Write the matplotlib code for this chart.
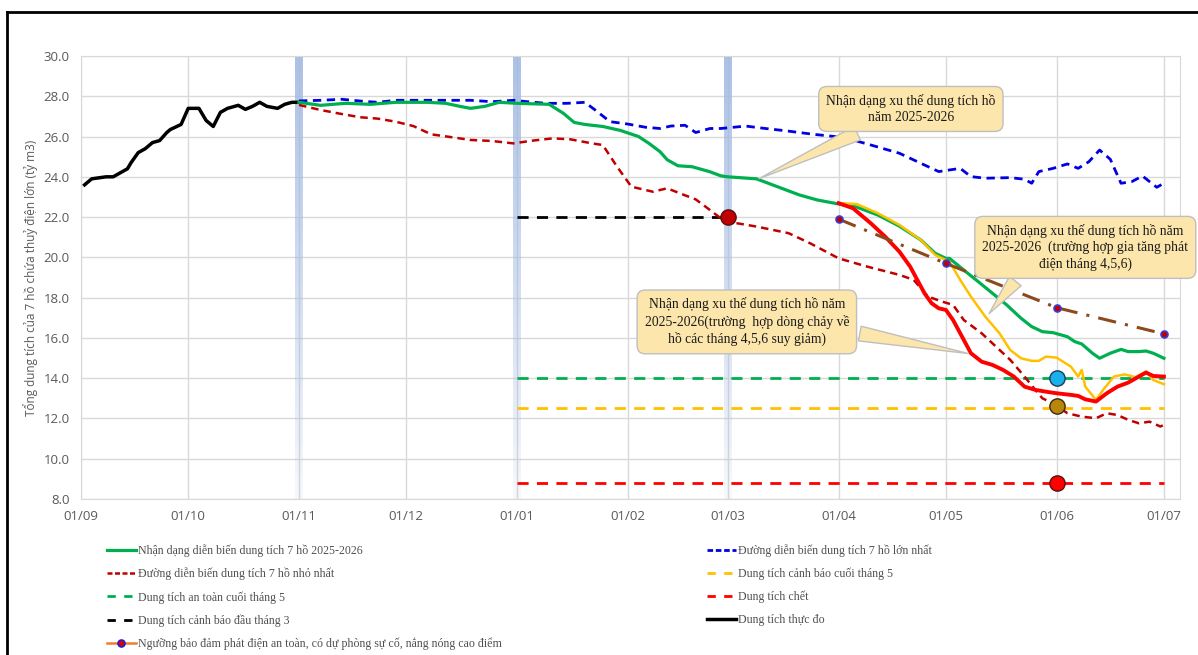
import matplotlib.pyplot as plt
from matplotlib.lines import Line2D
import numpy as np

# x = days since 01/09
month_days = [0, 30, 61, 91, 122, 153, 181, 212, 242, 273, 303]
month_labels = ["01/09", "01/10", "01/11", "01/12", "01/01", "01/02",
                "01/03", "01/04", "01/05", "01/06", "01/07"]

actual_days = [1, 3, 5, 7, 9, 11, 13, 14, 16, 18, 20, 22, 24, 25, 28, 30, 33,
               35, 37, 39, 41, 44, 46, 48, 50, 52, 55, 57, 59, 61]
actual_vals = [23.6, 23.9, 23.95, 24.0, 24.0, 24.2, 24.4, 24.7, 25.2, 25.4, 25.7,
               25.8, 26.2, 26.35, 26.6, 27.4, 27.4, 26.8, 26.5, 27.2, 27.4, 27.55,
               27.35, 27.5, 27.7, 27.5, 27.4, 27.6, 27.7, 27.7]

trend_days = [61, 67, 74, 81, 88, 97, 102, 106, 109, 113, 117, 122, 131, 135, 138,
              141, 146, 151, 156, 159, 162, 164, 167, 171, 176, 179, 181, 189, 195,
              201, 206, 212, 217, 223, 229, 235, 239, 242, 243, 247, 251, 255, 259,
              263, 266, 269, 272, 276, 278, 280, 283, 285, 288, 291, 293, 296, 298,
              300, 303]
trend_vals = [27.7, 27.55, 27.65, 27.6, 27.7, 27.7, 27.65, 27.5, 27.4, 27.5, 27.7,
              27.65, 27.6, 27.15, 26.7, 26.6, 26.5, 26.3, 26.0, 25.65, 25.25, 24.85,
              24.55, 24.5, 24.25, 24.05, 24.0, 23.9, 23.5, 23.1, 22.85, 22.65, 22.5,
              22.1, 21.55, 20.86, 20.2, 19.95, 19.95, 19.37, 18.8, 18.22, 17.64,
              16.98, 16.56, 16.31, 16.26, 16.06, 15.82, 15.7, 15.24, 14.99, 15.24,
              15.43, 15.32, 15.32, 15.35, 15.24, 14.99]

max_days = [61, 67, 73, 79, 83, 88, 93, 102, 109, 115, 121, 125, 130, 136, 141,
            144, 148, 153, 158, 162, 165, 169, 172, 176, 179, 186, 191, 197, 205,
            211, 216, 221, 229, 235, 240, 246, 249, 253, 260, 264, 266, 268, 272,
            276, 279, 282, 285, 288, 291, 294, 297, 301, 303]
max_vals = [27.77, 27.8, 27.85, 27.75, 27.7, 27.8, 27.8, 27.8, 27.8, 27.73, 27.8,
            27.73, 27.65, 27.65, 27.7, 27.3, 26.74, 26.62, 26.46, 26.4, 26.52,
            26.56, 26.2, 26.4, 26.4, 26.52, 26.41, 26.29, 26.11, 26.0, 25.83, 25.58,
            25.17, 24.67, 24.26, 24.42, 24.01, 23.93, 23.96, 23.88, 23.68, 24.26,
            24.42, 24.64, 24.42, 24.75, 25.33, 24.87, 23.68, 23.76, 24.04, 23.48,
            23.68]

min_days = [61, 67, 72, 78, 83, 88, 93, 98, 104, 109, 115, 121, 126, 132, 137,
            143, 146, 150, 154, 160, 164, 168, 172, 176, 179, 181, 189, 198, 204,
            212, 220, 229, 233, 237, 241, 244, 247, 252, 256, 260, 264, 267, 269,
            272, 276, 280, 284, 287, 290, 293, 296, 299, 302, 303]
min_vals = [27.57, 27.32, 27.15, 26.96, 26.89, 26.74, 26.52, 26.11, 25.96, 25.83,
            25.78, 25.66, 25.79, 25.91, 25.86, 25.66, 25.58, 24.5, 23.51, 23.26,
            23.43, 23.15, 22.88, 22.35, 21.94, 21.77, 21.53, 21.2, 20.7, 19.95,
            19.54, 19.13, 18.88, 18.05, 17.8, 17.64, 16.89, 16.23, 15.57, 14.91,
            14.08, 13.42, 13.0, 12.75, 12.26, 12.09, 12.01, 12.26, 12.17, 11.93,
            11.76, 11.84, 11.6, 11.68]

gen_days = [212, 217, 223, 229, 235, 239, 241, 243, 246, 249, 253, 257, 260, 263,
            266, 268, 270, 273, 277, 279, 280, 281, 284, 286, 289, 292, 295, 298,
            300, 303]
gen_vals = [22.69, 22.65, 22.19, 21.61, 20.86, 20.12, 19.95, 19.79, 18.88, 18.05,
            17.06, 16.23, 15.4, 14.99, 14.86, 14.86, 15.07, 15.02, 14.57, 14.08,
            14.41, 13.58, 12.92, 13.42, 14.08, 14.19, 14.05, 14.33, 13.91, 13.7]

dry_days = [212, 216, 221, 225, 229, 232, 234, 236, 238, 240, 242, 244, 246, 249,
            252, 255, 258, 261, 264, 267, 270, 273, 277, 279, 281, 284, 287, 290,
            293, 296, 298, 300, 303]
dry_vals = [22.69, 22.44, 21.69, 21.03, 20.28, 19.54, 18.88, 18.22, 17.72, 17.47,
            17.39, 16.89, 16.23, 15.24, 14.82, 14.66, 14.41, 14.08, 13.58, 13.42,
            13.33, 13.25, 13.17, 13.12, 12.95, 12.84, 13.25, 13.58, 13.78, 14.08,
            14.28, 14.11, 14.08]

thr_days = [212, 242, 273, 303]
thr_vals = [21.9, 19.7, 17.5, 16.2]

warn_mar = 22.0
safe_may = 14.0
warn_may = 12.5
dead_vol = 8.8
band_days = [61, 122, 181]

fig = plt.figure(figsize=(11.98, 6.55), dpi=100)
ax = fig.add_axes([81 / 1198, 1 - 499 / 655, (1180 - 81) / 1198, (499 - 56) / 655])

# light blue vertical bands, fading downwards
grad = np.ones((100, 1, 4))
grad[:, 0, 0], grad[:, 0, 1], grad[:, 0, 2] = 0.64, 0.73, 0.89
grad[:, 0, 3] = np.linspace(0.9, 0.1, 100)
for b in band_days:
    ax.imshow(grad, extent=(b - 1.1, b + 1.1, 8, 30), aspect='auto', zorder=1)

ax.plot([122, 181], [warn_mar] * 2, color='black', lw=2, dashes=(4, 3), zorder=3)
ax.plot([122, 303], [safe_may] * 2, color='#00b050', lw=2, dashes=(4, 3), zorder=3)
ax.plot([122, 303], [warn_may] * 2, color='#ffc000', lw=2, dashes=(4, 3), zorder=3)
ax.plot([122, 303], [dead_vol] * 2, color='#ff0000', lw=2, dashes=(4, 3), zorder=3)

ax.plot(max_days, max_vals, color='#0000e0', lw=2, dashes=(3, 2), zorder=4)
ax.plot(min_days, min_vals, color='#c00000', lw=1.8, dashes=(3, 2), zorder=4)
ax.plot(actual_days, actual_vals, color='black', lw=2.5, zorder=5)
ax.plot(trend_days, trend_vals, color='#00b050', lw=2.3, zorder=5)
ax.plot(gen_days, gen_vals, color='#ffc000', lw=1.8, zorder=5)
ax.plot(dry_days, dry_vals, color='#ff0000', lw=2.8, zorder=6)
ax.plot(thr_days, thr_vals, color='#8c4a1c', lw=2.2, dashes=(6, 3, 1, 3), zorder=6)
ax.plot(thr_days, thr_vals, ls='none', marker='o', ms=5, mfc='#c00000', mec='#3b3bd6',
        mew=1.2, zorder=7)

ax.plot(181, warn_mar, 'o', ms=11, mfc='#c00000', mec='#5a1010', zorder=8)
ax.plot(273, safe_may, 'o', ms=11, mfc='#1ab0ec', mec='#1f3a5a', zorder=8)
ax.plot(273, 12.6, 'o', ms=11, mfc='#b8860b', mec='#3a2a10', zorder=8)
ax.plot(273, dead_vol, 'o', ms=11, mfc='#ff0000', mec='#5a1010', zorder=8)

ax.set_xlim(0, 307.5)
ax.set_ylim(8, 30)
ax.set_xticks(month_days)
ax.set_xticklabels(month_labels)
ax.set_yticks(np.arange(8, 30.1, 2))
ax.set_yticklabels([f"{v:.1f}" for v in np.arange(8, 30.1, 2)])
ax.tick_params(length=0, labelsize=9.5, labelcolor='#595959', pad=8)
for lab in ax.get_xticklabels() + ax.get_yticklabels():
    lab.set_family('Open Sans')
ax.grid(True, color='#d9d9d9', lw=1)
ax.set_axisbelow(True)
for s in ax.spines.values():
    s.set_color('#d9d9d9')
ax.set_ylabel("Tổng dung tích của 7 hồ chứa thuỷ điện lớn (tỷ m3)", fontsize=8.5,
              color='#595959', family='Open Sans', labelpad=4)

# callouts
box = dict(boxstyle='round,pad=0.55,rounding_size=0.6', fc='#fce6ab', ec='#bfbfbf', lw=1)
wedge = dict(arrowstyle='wedge,tail_width=1.1,shrink_factor=0.5', fc='#fce6ab',
             ec='#bfbfbf', lw=1)
txt = dict(family='Liberation Serif', fontsize=9.8, color='#1a1a1a', ha='center',
           va='center', linespacing=1.3, zorder=10)
ax.annotate("Nhận dạng xu thế dung tích hồ\nnăm 2025-2026", xy=(189, 23.85),
            xytext=(232.2, 27.37), bbox=box,
            arrowprops=dict(wedge, relpos=(0.3, 0.0)), **txt)
ax.annotate("Nhận dạng xu thế dung tích hồ năm\n2025-2026  (trường hợp gia tăng phát\n"
            "điện tháng 4,5,6)", xy=(253.6, 17.1), xytext=(281, 20.5), bbox=box,
            arrowprops=dict(wedge, relpos=(0.2, 0.0)), **txt)
ax.annotate("Nhận dạng xu thế dung tích hồ năm\n2025-2026(trường  hợp dòng chảy về\n"
            "hồ các tháng 4,5,6 suy giảm)", xy=(249, 15.2), xytext=(186.3, 16.8), bbox=box,
            arrowprops=dict(wedge, relpos=(1.0, 0.3)), **txt)

# legend
h_trend = Line2D([], [], color='#00b050', lw=2.3)
h_min = Line2D([], [], color='#c00000', lw=1.8, dashes=(2, 1))
h_safe = Line2D([], [], color='#00b050', lw=2, dashes=(3, 3))
h_warn3 = Line2D([], [], color='black', lw=2, dashes=(3, 3))
h_thr = Line2D([], [], color='#ed7d31', lw=1.8, marker='o', ms=5, mfc='#e00000',
               mec='#2020d0', mew=1.2)
h_max = Line2D([], [], color='#0000e0', lw=2, dashes=(2, 1))
h_warn5 = Line2D([], [], color='#ffc000', lw=2, dashes=(3, 3))
h_dead = Line2D([], [], color='#ff0000', lw=2, dashes=(3, 3))
h_act = Line2D([], [], color='black', lw=2.5)

leg_kw = dict(frameon=False, loc='upper left', borderpad=0, borderaxespad=0,
              handlelength=2.4, handletextpad=0.2, labelspacing=0.9,
              prop={'family': 'Liberation Serif', 'size': 8.6}, labelcolor='#505050')
fig.legend([h_trend, h_min, h_safe, h_warn3, h_thr],
           ["Nhận dạng diễn biến dung tích 7 hồ 2025-2026",
            "Đường diễn biến dung tích 7 hồ nhỏ nhất",
            "Dung tích an toàn cuối tháng 5",
            "Dung tích cảnh báo đầu tháng 3",
            "Ngưỡng bảo đảm phát điện an toàn, có dự phòng sự cố, nắng nóng cao điểm"],
           bbox_to_anchor=(107 / 1198, 1 - 544 / 655), **leg_kw)
fig.legend([h_max, h_warn5, h_dead, h_act],
           ["Đường diễn biến dung tích 7 hồ lớn nhất",
            "Dung tích cảnh báo cuối tháng 5",
            "Dung tích chết",
            "Dung tích thực đo"],
           bbox_to_anchor=(707 / 1198, 1 - 544 / 655), **leg_kw)

# outer frame
fig.add_artist(Line2D([7 / 1198, 1], [1 - 12 / 655] * 2, color='black', lw=2,
                      transform=fig.transFigure))
fig.add_artist(Line2D([7 / 1198] * 2, [0, 1 - 12 / 655], color='black', lw=2,
                      transform=fig.transFigure))

fig.savefig("out.png", dpi=100)
